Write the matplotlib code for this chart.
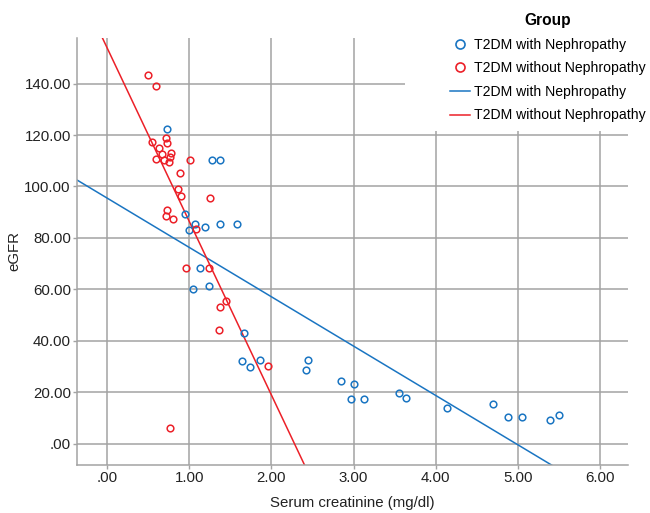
import numpy as np
import matplotlib
matplotlib.use("Agg")
import matplotlib.pyplot as plt
from matplotlib.patches import Rectangle
from matplotlib.lines import Line2D

plt.rcParams['font.family'] = ['Liberation Sans', 'DejaVu Sans']

# serum creatinine (mg/dl) and eGFR
neph_x = [0.726, 1.273, 1.379, 0.953, 1.067, 0.998, 1.196, 1.38, 1.578, 1.135,
          1.042, 1.241, 1.671, 1.639, 1.74, 1.861, 2.449, 2.417, 2.847, 3.009,
          2.968, 3.127, 3.552, 3.633, 4.14, 4.70, 4.88, 5.05, 5.39, 5.50]
neph_y = [122.2, 110.3, 110.3, 89.3, 85.6, 83.0, 84.4, 85.3, 85.3, 68.2,
          60.2, 61.5, 43.2, 32.2, 30.0, 32.5, 32.5, 28.6, 24.5, 23.3,
          17.4, 17.5, 19.8, 17.9, 14.1, 15.4, 10.5, 10.5, 9.3, 11.1]

noneph_x = [0.495, 0.60, 0.551, 0.629, 0.60, 0.665, 0.718, 0.734, 0.69, 0.775,
            0.766, 0.758, 1.014, 0.884, 0.86, 0.904, 1.257, 0.73, 0.718, 0.799,
            1.087, 0.961, 1.241, 1.448, 1.371, 1.359, 1.959, 0.766]
noneph_y = [143.3, 138.9, 117.3, 115.1, 110.8, 112.6, 119.0, 116.9, 110.3, 112.9,
            111.3, 109.5, 110.3, 105.4, 99.1, 96.2, 95.5, 90.9, 88.5, 87.3,
            83.5, 68.2, 68.2, 55.4, 53.3, 44.4, 30.4, 6.2]

groups = ['T2DM with Nephropathy', 'T2DM without Nephropathy']
colors = ['#1a75c2', '#ec2028']

xticks = [0, 1, 2, 3, 4, 5, 6]
yticks = [0, 20, 40, 60, 80, 100, 120, 140]

def fmt(v):
    s = '%.2f' % v
    return s[1:] if s.startswith('0') else s

fs = 10.8
fig = plt.figure(figsize=(6.5, 5.13), dpi=100)
ax = fig.add_axes([0.1185, 0.0936, 0.8475, 0.8324])
xlim = (-0.365, 6.338)
ylim = (-8.2, 157.7)

grid_c = '#a3a3a3'
for xs, ys, c in [(neph_x, neph_y, colors[0]), (noneph_x, noneph_y, colors[1])]:
    ax.plot(xs, ys, 'o', mfc='none', mec=c, ms=4.8, mew=1.1, zorder=3)
    # linear fit drawn over the whole axis range
    k, b = np.polyfit(xs, ys, 1)
    xx = np.array(xlim)
    ax.plot(xx, k * xx + b, color=c, lw=1.1, zorder=2)

ax.set_xlim(xlim)
ax.set_ylim(ylim)
ax.set_xticks(xticks)
ax.set_xticklabels([fmt(v) for v in xticks])
ax.set_yticks(yticks)
ax.set_yticklabels([fmt(v) for v in yticks])
ax.grid(True, color=grid_c, lw=1.1)
ax.set_axisbelow(True)
for s in ['top', 'right']:
    ax.spines[s].set_visible(False)
for s in ['left', 'bottom']:
    ax.spines[s].set_color(grid_c)
    ax.spines[s].set_linewidth(1.1)
ax.tick_params(colors=grid_c, labelcolor='#222222', labelsize=fs, length=3, width=1, pad=1.5)
ax.set_xlabel('Serum creatinine (mg/dl)', fontsize=fs, color='#222222', labelpad=8)
ax.set_ylabel('eGFR', fontsize=fs, color='#222222', labelpad=2)

# white legend area covering the top-right of the grid
fig.add_artist(Rectangle((405 / 650, 1 - 131 / 513), 1, 1, transform=fig.transFigure,
                         facecolor='white', edgecolor='none', zorder=1))

lfs = 10.1
handles = [Line2D([], [], ls='none', marker='o', mfc='none', mec=colors[0], ms=6.5, mew=1.2),
           Line2D([], [], ls='none', marker='o', mfc='none', mec=colors[1], ms=6.5, mew=1.2),
           Line2D([], [], color=colors[0], lw=1.1),
           Line2D([], [], color=colors[1], lw=1.1)]
labels = groups + groups
leg = fig.legend(handles, labels, title='Group', loc='upper left',
                 bbox_to_anchor=(439 / 650, 0.996), frameon=False, fontsize=lfs,
                 title_fontproperties={'weight': 'bold', 'size': 11.2},
                 handlelength=1.4, handletextpad=0.3, labelspacing=0.68, borderpad=0.3)
leg.set_zorder(5)

fig.savefig('out.png', dpi=100)
